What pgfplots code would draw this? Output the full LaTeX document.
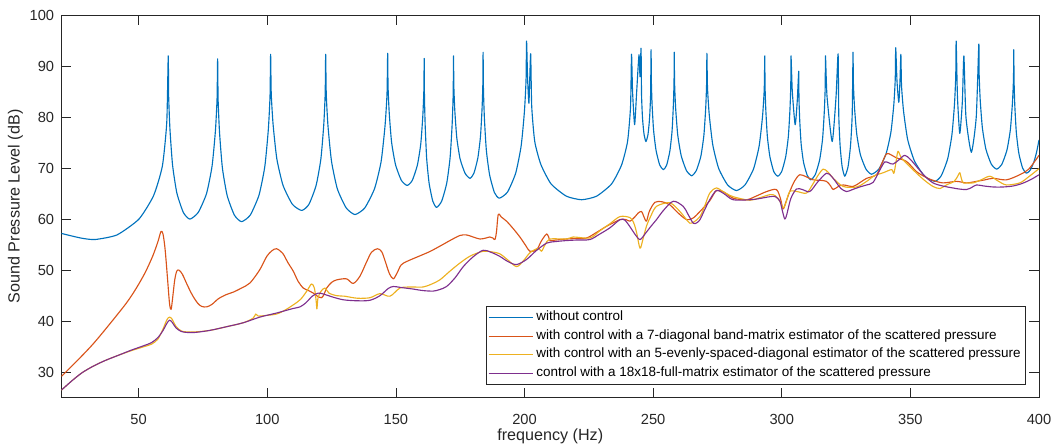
\documentclass[border=0pt]{standalone}
\usepackage{fontspec}
\setmainfont{Liberation Sans}
\usepackage{pgfplots}
\pgfplotsset{compat=1.18}

\definecolor{mblue}{rgb}{0,0.447,0.741}
\definecolor{morange}{rgb}{0.850,0.325,0.098}
\definecolor{myellow}{rgb}{0.929,0.694,0.125}
\definecolor{mpurple}{rgb}{0.494,0.184,0.556}
\definecolor{axgray}{rgb}{0.15,0.15,0.15}

\begin{document}
\begin{tikzpicture}
\begin{axis}[
    scale only axis,
    width=733pt, height=287pt,
    xmin=20, xmax=400, ymin=25, ymax=100,
    xtick={50,100,...,400},
    ytick={30,40,...,100},
    tick align=inside,
    major tick length=7.5pt,
    axis line style={draw=axgray, line width=0.5pt},
    every tick/.style={draw=axgray, line width=0.5pt},
    /pgf/number format/assume math mode=true,
    tick label style={font=\fontsize{11}{13}\selectfont, text=axgray},
    xticklabel style={yshift=-9pt},
    yticklabel style={xshift=-2pt},
    xlabel={frequency (Hz)},
    ylabel={Sound Pressure Level (dB)},
    label style={font=\fontsize{12.1}{14}\selectfont, text=axgray},
    xlabel style={at={(axis description cs:0.5,-0.1)}, anchor=center},
    ylabel style={at={(axis description cs:-0.0471,0.5)}, anchor=center},
    legend cell align=left,
    legend style={at={(0.9867,0.034)}, anchor=south east,
        draw=axgray, line width=0.4pt, fill=white,
        font=\fontsize{10.1}{11}\selectfont, text=black,
        inner xsep=1.5pt, inner ysep=1.5pt, row sep=0pt,
        nodes={text height=7.2pt, text depth=2.2pt, inner sep=2.25pt}},
    legend image code/.code={\draw[#1, line width=0.9pt] (0pt,0pt) -- (33pt,0pt);},
    every axis plot/.append style={line width=0.85pt, line join=round},
]

% without control
\addplot[mblue, smooth, tension=0.35] table {
20 57.2
24 56.7
28 56.25
33 56.0
41.55 56.9
50.1 60.0
55.8 64.6
59.22 70.4
60.93 79.0
61.5 92.0
61.67 84.0
62.17 77.6
63.18 70.6
64.86 65.1
67.38 61.3
69.9 60.0
73.14 61.3
76.38 65.0
78.54 70.4
79.84 77.3
80.48 83.6
80.7 91.4
80.89 83.4
81.44 77.0
82.56 70.0
84.42 64.6
87.21 60.8
90.0 59.5
93.39 60.8
96.78 64.7
99.04 70.3
100.4 77.5
101.07 84.1
101.3 92.3
101.54 84.6
102.27 78.5
103.72 71.8
106.14 66.6
109.77 62.9
113.4 61.7
116.19 62.9
118.98 66.6
120.84 71.8
121.96 78.5
122.51 84.6
122.7 92.3
122.93 84.5
123.61 78.2
124.98 71.3
127.26 65.9
130.68 62.2
134.1 60.9
137.91 62.2
141.72 66.0
144.26 71.3
145.78 78.3
146.55 84.6
146.8 92.5
146.95 86.0
147.41 80.8
148.32 75.1
149.84 70.7
152.12 67.6
154.4 66.6
156.38 67.6
158.36 70.6
159.68 74.8
160.47 80.3
160.87 85.3
161.0 91.5
161.1 84.2
161.38 78.4
161.96 71.9
162.92 67.0
164.36 63.5
165.8 62.3
167.78 63.5
169.76 67.05
171.08 72.1
171.87 78.6
172.27 84.6
172.4 92.0
172.53 86.0
172.91 81.2
173.68 75.9
174.96 71.8
176.88 69.0
178.8 68.0
180.33 69.0
181.86 72.0
182.88 76.2
183.49 81.6
183.8 86.5
183.9 92.7
184.03 85.6
184.4 79.8
185.16 73.5
186.42 68.7
188.31 65.2
190.2 64.1
193.38 65.3
196.56 69.0
198.68 74.3
199.95 81.0
200.59 87.2
200.8 94.9
201.2 87.5
201.7 82.7
202.0 87.0
202.4 92.4
202.8 82.1
203.98 75.2
206.36 70.7
210.32 66.9
216.26 64.5
222.2 63.8
228.02 64.5
233.84 66.9
237.72 70.6
240.05 75.2
241.21 82.0
241.6 92.3
242.0 85.0
242.8 78.5
243.6 85.0
244.5 92.2
244.9 87.9
245.3 93.5
245.49 84.4
245.87 79.8
246.44 76.7
247.2 75.2
248.0 76.6
248.6 79.7
249.0 84.2
249.2 93.2
249.3 87.3
249.58 82.6
250.16 77.5
251.12 73.5
252.56 70.6
254.0 69.7
255.26 70.6
256.52 73.4
257.36 77.3
257.86 82.35
258.12 86.95
258.2 92.7
258.34 86.65
258.74 81.8
259.56 76.5
260.92 72.4
262.96 69.5
265.0 68.5
266.77 69.5
268.54 72.3
269.72 76.4
270.43 81.7
270.78 86.5
270.9 92.5
271.13 85.8
271.82 80.4
273.2 74.5
275.5 69.9
278.95 66.7
282.4 65.6
285.7 66.7
289.0 69.8
291.2 74.3
292.52 80.1
293.18 85.4
293.4 92.0
293.5 86.1
293.8 81.4
294.4 76.2
295.4 72.2
296.9 69.3
298.4 68.4
299.96 69.3
301.52 72.2
302.56 76.2
303.18 81.4
303.5 86.1
303.6 92.0
304.1 85.0
305.2 78.5
306.0 83.0
306.6 89.0
306.69 83.7
306.98 79.4
307.54 74.7
308.48 71.1
309.89 68.6
311.3 67.7
313.01 68.7
314.72 71.6
315.86 75.7
316.54 81.1
316.89 85.9
317.0 92.0
317.6 84.0
319.6 75.2
321.1 84.0
321.9 92.4
322.16 80.4
322.68 74.4
323.46 70.3
324.5 68.4
325.78 70.3
326.74 74.5
327.38 80.5
327.7 92.7
327.84 86.7
328.28 81.9
329.14 76.7
330.58 72.6
332.74 69.8
334.9 68.8
337.72 69.8
340.54 72.8
342.42 77.0
343.55 82.4
344.11 87.4
344.3 93.6
344.8 87.0
345.5 82.9
345.95 87.0
346.3 92.3
346.56 86.1
347.36 81.1
348.94 75.6
351.58 71.4
355.54 68.4
359.5 67.4
361.99 68.5
364.48 71.8
366.14 76.5
367.14 82.5
367.63 88.0
367.8 94.9
368.3 84.0
369.2 76.8
370.2 83.0
370.8 92.0
371.6 80.0
373.7 73.1
375.6 80.0
376.6 94.3
376.74 88.2
377.15 83.3
377.98 77.9
379.36 73.7
381.43 70.8
383.5 69.8
385.51 70.7
387.52 73.5
388.86 77.5
389.66 82.7
390.07 87.35
390.2 93.2
390.3 87.2
390.59 82.3
391.18 77.0
392.16 72.9
393.63 70.0
395.1 69.0
396.6 69.6
398.0 71.2
399.0 73.0
400.0 75.5
};
\addlegendentry{without control}

% 7-diagonal band-matrix estimator
\addplot[morange, smooth, tension=0.5] table {
20 29.2
26 32.2
32.4 35.6
39 39.6
45.3 43.6
49 46.4
52.5 49.5
55.5 52.8
57.5 55.6
58.7 57.6
59.5 57.0
60.3 54.0
61.2 48.5
62.0 43.5
62.6 42.3
63.2 44.5
64.0 48.0
64.8 49.8
65.7 50.0
67 49.2
69 47.0
71 45.0
73 43.5
74.5 42.9
76.4 42.8
78.5 43.3
81 44.4
84 45.2
86.8 45.7
90 46.5
93.3 47.5
97.1 50.1
99.8 52.7
101.8 53.8
103.6 54.2
106 53.3
108 51.5
110.1 49.8
112 47.8
114 46.5
116 46.0
117.9 45.5
119.5 44.9
121.1 44.6
122.1 45.3
123.1 46.5
125 47.6
127 48.1
130.8 48.3
133.4 47.4
136 48.8
138.5 51.5
140.5 53.5
142.8 54.2
144.5 53.6
146 51.5
147.5 49.3
149 48.3
150.5 49.5
152 51.0
154.2 51.7
159.3 52.8
163 53.6
167.1 54.7
171 55.8
174.9 56.8
177.5 56.9
180 56.5
182.7 56.1
185 56.3
186.5 56.5
187.7 56.3
188.5 56.0
189.1 57.5
189.8 60.9
191 60.4
193 59.6
195.5 58.2
198.2 56.5
200.5 54.8
202.1 53.7
204.7 54.0
206.3 55.5
207.3 56.3
208.6 57.1
209.4 56.5
209.9 55.8
212 55.9
216.3 56.1
220 56.2
224.1 56.3
228 57.4
231.9 58.6
237.1 59.9
239.5 59.9
241.0 59.6
243 60.5
244.2 61.2
245.5 61.5
246.3 60.6
247.4 59.6
248.5 61.5
250.7 63.3
253.5 63.4
256.5 62.8
259.5 61.3
263.0 59.9
265.5 60.2
268.2 61.5
272.0 63.6
274.6 65.6
277.5 65.3
281.1 64.1
286.3 63.8
290 64.5
294.1 65.4
297.9 65.8
299.5 64.0
300.5 62.0
301.5 63.2
303.1 65.4
305 67.5
307.0 68.7
309.5 68.3
312.2 67.7
315 67.6
317.4 67.4
319 66.5
320.0 65.8
322 66.4
323.9 66.7
327.7 66.4
330.5 67.2
333.0 68.0
336.8 68.7
338.8 70.8
340.7 72.8
342.5 72.6
344.6 72.0
348.5 71.3
352.4 69.3
356 68.2
358.8 67.6
362.7 67.1
367.9 67.4
371.8 67.1
375.7 67.4
379 67.7
382.2 68.0
387.3 67.7
392.5 68.7
396 69.8
400 72.5
};
\addlegendentry{with control with a 7-diagonal band-matrix estimator of the scattered pressure}

% 5-evenly-spaced-diagonal estimator
\addplot[myellow, smooth, tension=0.5] table {
20 26.5
24 28.3
28 29.9
32.4 31.2
37 32.3
42 33.3
47 34.2
52 35.0
55 35.5
57.5 36.5
59.5 38.5
61 40.3
62 40.8
63 40.4
64.5 39.0
66.5 38.1
68.7 37.9
72 37.9
77.7 38.2
84 38.9
90.7 39.7
94.5 40.6
95.5 41.4
96.5 41.0
99 41.1
103.6 41.4
107 42.2
110.1 43.2
113 44.3
115.5 46.0
117.2 47.3
118.3 46.5
119.0 44.0
119.3 42.4
119.7 44.5
120.8 45.8
122.4 46.5
124 45.5
127 45.0
130 44.9
135 44.5
139.9 44.6
143.8 45.4
147.7 44.9
151.6 46.5
156 46.7
160.6 46.7
164 47.3
167.1 48.1
171 49.8
174.9 51.4
179 52.8
183.9 53.7
187 53.6
190.4 53.2
193.5 52.0
196.9 50.7
199.5 51.8
202.1 53.4
205.3 54.3
206.6 53.7
208 55.0
209.9 56.1
216.3 56.1
218.9 56.5
225.4 56.3
229 57.6
233.2 59.1
237.1 60.5
241.0 60.3
242.5 59.2
243.6 57.3
244.9 54.3
246 56.0
247.4 58.6
249 60.5
251.3 62.5
256.5 63.2
260.4 61.5
262.5 60.2
264.3 59.2
266 59.5
268.2 60.5
270 62.5
272.0 65.1
274.6 66.1
277.5 65.3
281.1 64.4
287.6 63.7
291.5 64.2
295.4 64.8
297.5 64.6
299.3 63.5
300.5 62.2
301.5 63.0
303.1 65.4
306 65.4
309.6 65.1
312 66.8
314 68.5
316.1 69.8
318 69.2
320.0 68.0
323.9 66.4
329.1 66.3
333.0 67.4
336 68.5
339.5 69.1
342.7 69.7
343.6 69.0
344.5 71.5
345.2 73.3
346.5 72.0
349 70.7
352.4 69.0
355.5 67.6
358.8 66.4
361.5 66.0
364.0 66.7
367 67.4
368.5 68.5
369.2 69.1
369.8 68.0
370.5 67.1
372 67.1
374.4 67.1
377.5 67.7
380.9 68.4
384 67.5
387.3 66.7
392.5 67.1
396 68.3
400 69.9
};
\addlegendentry{with control with an 5-evenly-spaced-diagonal estimator of the scattered pressure}

% 18x18 full-matrix estimator
\addplot[mpurple, smooth, tension=0.5] table {
20 26.5
24 28.3
28 29.9
32.4 31.2
37 32.3
42 33.3
47 34.3
52 35.2
55 35.8
57.5 36.8
59.5 38.2
61 39.6
62 40.2
63 39.8
64.5 38.7
66.5 38.0
68.7 37.8
72 37.8
77.7 38.2
84 38.9
90.7 39.7
97.1 40.8
103.6 41.6
110.1 42.5
112.7 42.8
115 43.6
117.5 44.9
119.8 45.5
122 45.3
125 44.8
129.5 44.2
135 44.0
139.9 44.1
143.8 45.0
147 46.4
149 46.8
152 46.6
156.7 46.3
160.5 46.0
164.5 45.9
167 46.2
169.7 46.8
173 48.5
176.2 50.7
180 52.6
183.9 53.9
187 53.5
190.4 52.7
193.5 51.7
196.9 51.1
200.8 52.1
204.5 53.8
208.6 55.3
212 55.6
216.3 55.8
220 55.9
225.4 56.0
229 57.0
233.2 58.3
237.1 59.9
239 59.8
241 58.5
243 57.0
244.9 56.0
247 57.2
249 58.5
251.3 59.9
254 61.7
257.8 63.5
261.7 62.5
263.5 61.0
265.6 59.2
267 59.3
268.2 59.9
270 61.8
272.0 63.8
274.6 65.6
277.5 65.0
281.1 63.8
287.6 63.8
291 64.0
295.4 64.4
297.5 64.4
299.3 63.5
300.3 61.5
301.2 60.0
302 61.0
303.5 64.0
305.7 65.9
308 65.8
310.9 65.4
314 67.3
317.4 69.0
319.5 68.3
321.3 67.1
323 66.0
325.2 65.4
327.5 65.8
330.3 66.3
333 66.7
335.5 67.2
338 69.5
340 71.2
341.7 71.0
343.3 70.8
345.5 71.6
347.8 72.5
350 71.7
352.4 70.3
355.5 68.5
358.8 67.1
362.5 66.5
366.6 66.1
369 65.9
371.8 65.8
373.8 66.2
375.7 66.7
378.5 66.5
382.2 66.3
386 66.3
390 66.5
393.5 67.0
397 67.8
400 68.7
};
\addlegendentry{control with a 18x18-full-matrix estimator of the scattered pressure}

\end{axis}
\pgfresetboundingbox
\path ([xshift=-46.1pt,yshift=-36pt]current axis.south west) rectangle ([xshift=12pt,yshift=11.25pt]current axis.north east);
\end{tikzpicture}
\end{document}
